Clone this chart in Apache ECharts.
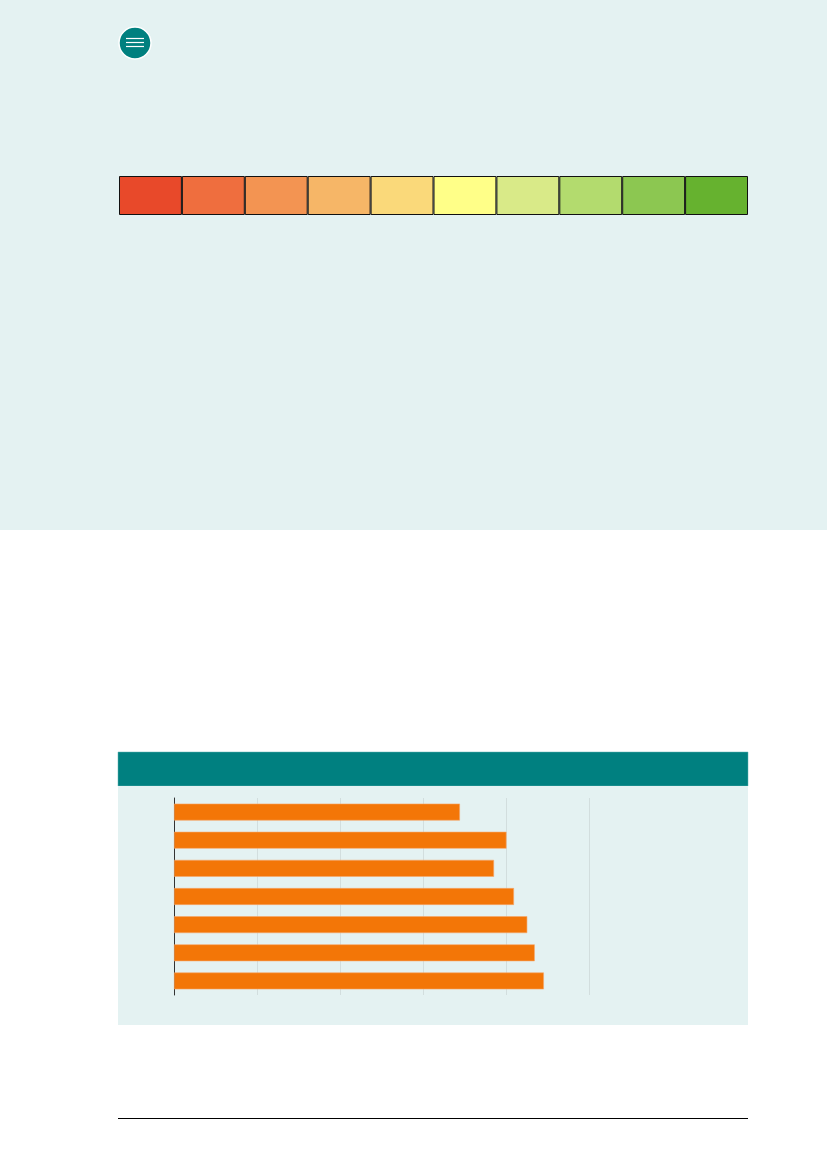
<!DOCTYPE html>
<html>
<head>
<meta charset="utf-8">
<script src="https://cdn.jsdelivr.net/npm/echarts@6/dist/echarts.min.js"></script>
<style>
html,body{margin:0;padding:0;background:#fff;}
#c{width:827px;height:1169px;}
</style>
</head>
<body>
<div id="c"></div>
<script>
// Colour scale cells
const scaleSteps = ['1','2','3','4','5','6','7','8','9','10'];
const scaleValues = [1,1,1,1,1,1,1,1,1,1];
const scaleColors = ['#E8492A','#EF6E3E','#F39452','#F6B667','#FAD97A','#FFFF88','#D9EA88','#B3DB6E','#8CC751','#66B22F'];

// Bar chart
const barCategories = ['1','2','3','4','5','6','7'];
const barValues = [34.4, 40.0, 38.5, 40.9, 42.5, 43.4, 44.5];
const xTicks = [0, 10, 20, 30, 40, 50];

const chart = echarts.init(document.getElementById('c'), null, {renderer:'canvas'});

const option = {
  backgroundColor: '#ffffff',
  animation: false,
  graphic: [
    {type:'rect', z:-10, shape:{x:0,y:0,width:827,height:530}, style:{fill:'#E4F2F2'}},
    {type:'circle', z:-5, shape:{cx:135,cy:43,r:16}, style:{fill:'#00807F', stroke:'#ffffff', lineWidth:1.5}},
    {type:'line', z:-4, shape:{x1:126,y1:38.5,x2:144,y2:38.5}, style:{stroke:'#ffffff', lineWidth:1.2}},
    {type:'line', z:-4, shape:{x1:126,y1:42.5,x2:144,y2:42.5}, style:{stroke:'#ffffff', lineWidth:1.2}},
    {type:'line', z:-4, shape:{x1:126,y1:46.5,x2:144,y2:46.5}, style:{stroke:'#ffffff', lineWidth:1.2}},
    {type:'rect', z:-10, shape:{x:118,y:752,width:630,height:34}, style:{fill:'#008080', stroke:'#5fb3b3', lineWidth:0.5}},
    {type:'rect', z:-10, shape:{x:118,y:786,width:630,height:239}, style:{fill:'#E4F2F2'}},
    {type:'line', z:-4, shape:{x1:118,y1:1118.5,x2:748,y2:1118.5}, style:{stroke:'#000000', lineWidth:1.2}}
  ],
  grid: [
    {left:119, top:176, width:629, height:39, containLabel:false},
    {left:174, top:798, width:415.6, height:197, containLabel:false}
  ],
  xAxis: [
    {gridIndex:0, type:'category', data:scaleSteps, boundaryGap:true, show:false},
    {gridIndex:1, type:'value', min:xTicks[0], max:xTicks[xTicks.length-1], interval:xTicks[1]-xTicks[0],
     axisLine:{show:false}, axisTick:{show:false}, axisLabel:{show:false},
     splitLine:{show:true, lineStyle:{color:'#d2dede', width:1}}}
  ],
  yAxis: [
    {gridIndex:0, type:'value', min:0, max:1, show:false},
    {gridIndex:1, type:'category', data:barCategories, inverse:true,
     axisLine:{show:true, lineStyle:{color:'#333333', width:1}}, axisTick:{show:false}, axisLabel:{show:false},
     splitLine:{show:false}}
  ],
  series: [
    {type:'bar', xAxisIndex:0, yAxisIndex:0, barWidth:'100%',
     data: scaleValues.map((v,i)=>({value:v, itemStyle:{color:scaleColors[i]}})),
     itemStyle:{borderColor:'#111111', borderWidth:1}},
    {type:'bar', xAxisIndex:1, yAxisIndex:1, barCategoryGap:'40%',
     data: barValues,
     itemStyle:{color:'#F37607', borderColor:'#F6A66A', borderWidth:0.6}}
  ]
};
chart.setOption(option);
</script>
</body>
</html>
